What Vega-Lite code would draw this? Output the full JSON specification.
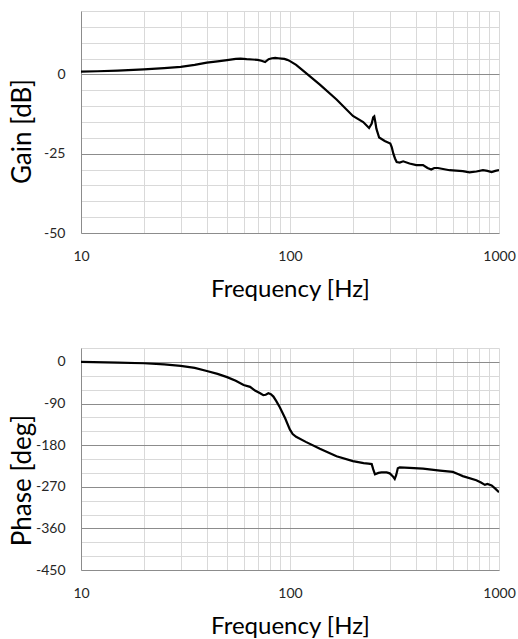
{
  "$schema": "https://vega.github.io/schema/vega-lite/v6.json",
  "padding": {"left": 8, "top": 4, "right": 2, "bottom": 0},
  "spacing": 40,
  "config": {
    "font": "Lato",
    "view": {"stroke": null},
    "axis": {
      "labelFont": "Lato", "labelFontSize": 14, "labelColor": "#262626",
      "titleFont": "Lato", "titleFontSize": 24, "titleFontWeight": "normal", "titleColor": "#000000",
      "ticks": false, "tickSize": 0,
      "domainColor": "#8c8c8c", "domainWidth": 1,
      "gridColor": "#d9d9d9", "gridOpacity": 1, "gridWidth": 1,
      "labelOverlap": false, "labelBound": false, "labelFlush": false
    }
  },
  "datasets": {
    "gain": [
      {"f": 10, "gain": 0.9}, {"f": 12, "gain": 1.0}, {"f": 15, "gain": 1.2}, {"f": 20, "gain": 1.6},
      {"f": 25, "gain": 2.0}, {"f": 30, "gain": 2.4}, {"f": 35, "gain": 3.0}, {"f": 40, "gain": 3.7},
      {"f": 45, "gain": 4.1}, {"f": 50, "gain": 4.5}, {"f": 55, "gain": 4.9}, {"f": 58, "gain": 5.0},
      {"f": 62, "gain": 4.8}, {"f": 66, "gain": 4.7}, {"f": 70, "gain": 4.6}, {"f": 73, "gain": 4.3},
      {"f": 76, "gain": 3.9}, {"f": 79, "gain": 4.8}, {"f": 82, "gain": 5.1}, {"f": 85, "gain": 5.2},
      {"f": 88, "gain": 5.1}, {"f": 91, "gain": 5.0}, {"f": 94, "gain": 4.9}, {"f": 97, "gain": 4.6},
      {"f": 100, "gain": 4.2}, {"f": 107, "gain": 3.0}, {"f": 119, "gain": 0.5}, {"f": 139, "gain": -3.2},
      {"f": 167, "gain": -7.9}, {"f": 200, "gain": -13.1}, {"f": 224, "gain": -15.0}, {"f": 239, "gain": -16.9},
      {"f": 246, "gain": -15.5}, {"f": 250, "gain": -13.5}, {"f": 253, "gain": -13.2}, {"f": 256, "gain": -15.0},
      {"f": 259, "gain": -17.1}, {"f": 267, "gain": -19.9}, {"f": 284, "gain": -21.0}, {"f": 302, "gain": -21.8},
      {"f": 307, "gain": -23.0}, {"f": 312, "gain": -24.9}, {"f": 318, "gain": -26.5}, {"f": 324, "gain": -27.6},
      {"f": 335, "gain": -27.8}, {"f": 348, "gain": -27.4}, {"f": 373, "gain": -28.1}, {"f": 402, "gain": -28.6},
      {"f": 433, "gain": -28.6}, {"f": 455, "gain": -29.5}, {"f": 474, "gain": -30.0}, {"f": 490, "gain": -29.5},
      {"f": 510, "gain": -29.5}, {"f": 580, "gain": -30.2}, {"f": 671, "gain": -30.5}, {"f": 722, "gain": -30.9},
      {"f": 780, "gain": -30.6}, {"f": 838, "gain": -30.2}, {"f": 880, "gain": -30.4}, {"f": 922, "gain": -30.8},
      {"f": 960, "gain": -30.4}, {"f": 1000, "gain": -30.2}
    ],
    "phase": [
      {"f": 10, "phase": 0}, {"f": 15, "phase": -1.5}, {"f": 20, "phase": -3}, {"f": 25, "phase": -5.5},
      {"f": 30, "phase": -8.7}, {"f": 35, "phase": -13}, {"f": 40, "phase": -19.6}, {"f": 45, "phase": -26},
      {"f": 50, "phase": -33}, {"f": 55, "phase": -41}, {"f": 60, "phase": -50}, {"f": 64.4, "phase": -54},
      {"f": 68, "phase": -62}, {"f": 72, "phase": -68}, {"f": 74.5, "phase": -72}, {"f": 76.5, "phase": -71},
      {"f": 78.8, "phase": -68}, {"f": 81, "phase": -70}, {"f": 83.3, "phase": -75}, {"f": 86, "phase": -85},
      {"f": 89.5, "phase": -98.6}, {"f": 94.8, "phase": -122}, {"f": 99.8, "phase": -146}, {"f": 103, "phase": -156},
      {"f": 107, "phase": -162}, {"f": 119, "phase": -173}, {"f": 139, "phase": -188}, {"f": 167, "phase": -204},
      {"f": 200, "phase": -214.5}, {"f": 225, "phase": -219}, {"f": 237, "phase": -220}, {"f": 246, "phase": -221},
      {"f": 250, "phase": -232}, {"f": 255, "phase": -243}, {"f": 265, "phase": -240}, {"f": 274, "phase": -239},
      {"f": 290, "phase": -239}, {"f": 300, "phase": -241}, {"f": 310, "phase": -247}, {"f": 317, "phase": -253},
      {"f": 322, "phase": -245}, {"f": 328, "phase": -230}, {"f": 335, "phase": -228}, {"f": 373, "phase": -229},
      {"f": 433, "phase": -231}, {"f": 522, "phase": -235}, {"f": 601, "phase": -238}, {"f": 640, "phase": -243},
      {"f": 671, "phase": -247}, {"f": 779, "phase": -256}, {"f": 820, "phase": -261}, {"f": 856, "phase": -266},
      {"f": 880, "phase": -264}, {"f": 922, "phase": -267}, {"f": 960, "phase": -274}, {"f": 1000, "phase": -282}
    ]
  },
  "vconcat": [
    {
      "width": 418, "height": 222,
      "data": {"name": "gain"},
      "mark": {"type": "line", "color": "#000000", "strokeWidth": 2.2, "clip": true},
      "encoding": {
        "x": {
          "field": "f", "type": "quantitative",
          "scale": {"type": "log", "domain": [10, 1000], "nice": false},
          "axis": {
            "title": "Frequency [Hz]", "titleBaseline": "alphabetic", "titleY": 63,
            "values": [10, 20, 30, 40, 50, 60, 70, 80, 90, 100, 200, 300, 400, 500, 600, 700, 800, 900, 1000],
            "format": "d", "labelPadding": 16,
            "labelExpr": "datum.value == 10 || datum.value == 100 || datum.value == 1000 ? datum.label : ''"
          }
        },
        "y": {
          "field": "gain", "type": "quantitative",
          "scale": {"domain": [-50, 20], "nice": false, "zero": false},
          "axis": {
            "title": "Gain [dB]", "titleFontSize": 26, "titleBaseline": "alphabetic", "titleX": -51, "titleY": 120,
            "values": [-50, -45, -40, -35, -30, -25, -20, -15, -10, -5, 0, 5, 10, 15, 20],
            "labelPadding": 16,
            "labelExpr": "datum.value % 25 == 0 ? replace(datum.label, '\u2212', '-') : ''",
            "gridColor": {"condition": {"test": "datum.value % 25 == 0 && datum.value > -50", "value": "#8c8c8c"}, "value": "#d9d9d9"}
          }
        }
      }
    },
    {
      "width": 418, "height": 222,
      "data": {"name": "phase"},
      "mark": {"type": "line", "color": "#000000", "strokeWidth": 2.2, "clip": true},
      "encoding": {
        "x": {
          "field": "f", "type": "quantitative",
          "scale": {"type": "log", "domain": [10, 1000], "nice": false},
          "axis": {
            "title": "Frequency [Hz]", "titleBaseline": "alphabetic", "titleY": 63,
            "values": [10, 20, 30, 40, 50, 60, 70, 80, 90, 100, 200, 300, 400, 500, 600, 700, 800, 900, 1000],
            "format": "d", "labelPadding": 16,
            "labelExpr": "datum.value == 10 || datum.value == 100 || datum.value == 1000 ? datum.label : ''"
          }
        },
        "y": {
          "field": "phase", "type": "quantitative",
          "scale": {"domain": [-450, 30], "nice": false, "zero": false},
          "axis": {
            "title": "Phase [deg]", "titleFontSize": 26, "titleBaseline": "alphabetic", "titleX": -51, "titleY": 132,
            "values": [-450, -420, -390, -360, -330, -300, -270, -240, -210, -180, -150, -120, -90, -60, -30, 0, 30],
            "labelPadding": 16,
            "labelExpr": "datum.value % 90 == 0 ? replace(datum.label, '\u2212', '-') : ''",
            "gridColor": {"condition": {"test": "datum.value % 90 == 0 && datum.value > -450", "value": "#8c8c8c"}, "value": "#d9d9d9"}
          }
        }
      }
    }
  ]
}
